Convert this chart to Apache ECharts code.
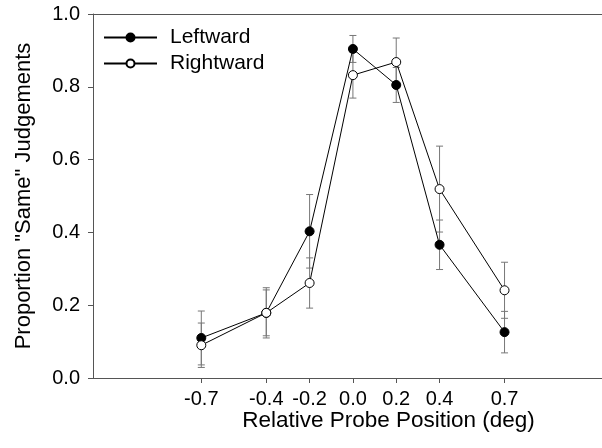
<!DOCTYPE html>
<html>
<head>
<meta charset="utf-8">
<script src="https://cdn.jsdelivr.net/npm/echarts@6/dist/echarts.min.js"></script>
<style>
  html, body { margin: 0; padding: 0; background: #fff; }
  #chart { width: 602px; height: 448px; }
</style>
</head>
<body>
<div id="chart"></div>
<script>
// probe positions (deg)
const positions = [-0.7, -0.4, -0.2, 0.0, 0.2, 0.4, 0.7];
// proportion "same" judgements + error bar half widths
const leftward = [0.110, 0.179, 0.403, 0.904, 0.805, 0.366, 0.126];
const leftwardErr = [0.074, 0.069, 0.101, 0.037, 0.048, 0.068, 0.057];
const rightward = [0.090, 0.179, 0.261, 0.832, 0.868, 0.519, 0.241];
const rightwardErr = [0.061, 0.063, 0.069, 0.063, 0.066, 0.118, 0.077];
const yTicks = [0, 0.2, 0.4, 0.6, 0.8, 1.0];

const axisColor = '#555';
const font = 'Liberation Sans';

const chart = echarts.init(document.getElementById('chart'));

function errData(vals, errs) {
  return positions.map((x, i) => [x, vals[i] - errs[i], vals[i] + errs[i]]);
}

// vertical bar with small caps
function renderErr(params, api) {
  const x = api.value(0);
  const lo = api.coord([x, api.value(1)]);
  const hi = api.coord([x, api.value(2)]);
  const w = 3.5;
  const st = { stroke: '#777', lineWidth: 1 };
  return {
    type: 'group',
    children: [
      { type: 'line', shape: { x1: lo[0], y1: lo[1], x2: hi[0], y2: hi[1] }, style: st },
      { type: 'line', shape: { x1: lo[0] - w, y1: lo[1], x2: lo[0] + w, y2: lo[1] }, style: st },
      { type: 'line', shape: { x1: hi[0] - w, y1: hi[1], x2: hi[0] + w, y2: hi[1] }, style: st }
    ]
  };
}

const option = {
  animation: false,
  textStyle: { fontFamily: font },
  grid: { left: 93, right: 0, top: 14, bottom: 70 },
  legend: {
    orient: 'vertical',
    left: 98,
    top: 22,
    itemWidth: 53,
    itemHeight: 10,
    itemGap: 5,
    textStyle: { fontFamily: font, fontSize: 21, color: '#000', padding: [0, 0, 0, 8] },
    data: ['Leftward', 'Rightward']
  },
  xAxis: [{
    type: 'value',
    min: -1.2,
    max: 1.15,
    name: 'Relative Probe Position (deg)',
    nameLocation: 'middle',
    nameGap: 31,
    nameMoveOverlap: false,
    nameTextStyle: { fontFamily: font, fontSize: 22.5, color: '#000', padding: [0, 0, 0, 82] },
    axisLine: { onZero: false, lineStyle: { color: axisColor, width: 1 } },
    axisTick: { show: true, length: 5, lineStyle: { color: axisColor }, customValues: positions },
    axisLabel: {
      margin: 11,
      customValues: positions,
      formatter: v => '{t|' + v.toFixed(1) + '}',
      rich: {
        t: { fontFamily: font, fontSize: 20, color: '#000' }
      }
    },
    splitLine: { show: false }
  }, {
    type: 'value',
    position: 'top',
    min: -1.2,
    max: 1.15,
    axisLine: { show: true, onZero: false, lineStyle: { color: axisColor, width: 1 } },
    axisTick: { show: false },
    axisLabel: { show: false },
    splitLine: { show: false }
  }],
  yAxis: {
    type: 'value',
    min: 0,
    max: 1,
    interval: 0.2,
    name: 'Proportion "Same" Judgements',
    nameLocation: 'middle',
    nameGap: 58,
    nameMoveOverlap: false,
    nameTextStyle: { fontFamily: font, fontSize: 22, color: '#000' },
    axisLine: { show: true, onZero: false, lineStyle: { color: axisColor, width: 1 } },
    axisTick: { show: true, length: 5, lineStyle: { color: axisColor } },
    axisLabel: {
      fontFamily: font, fontSize: 20, color: '#000', margin: 13,
      customValues: yTicks,
      formatter: v => v.toFixed(1)
    },
    splitLine: { show: false }
  },
  series: [
    {
      type: 'custom',
      renderItem: renderErr,
      data: errData(leftward, leftwardErr),
      z: 1,
      silent: true
    },
    {
      type: 'custom',
      renderItem: renderErr,
      data: errData(rightward, rightwardErr),
      z: 1,
      silent: true
    },
    {
      name: 'Leftward',
      type: 'line',
      data: positions.map((x, i) => [x, leftward[i]]),
      symbol: 'circle',
      symbolSize: 9,
      lineStyle: { color: '#000', width: 1 },
      itemStyle: { color: '#000', borderColor: '#000', borderWidth: 1 },
      z: 3
    },
    {
      name: 'Rightward',
      type: 'line',
      data: positions.map((x, i) => [x, rightward[i]]),
      symbol: 'circle',
      symbolSize: 9,
      lineStyle: { color: '#000', width: 1 },
      itemStyle: { color: '#fff', borderColor: '#000', borderWidth: 1 },
      z: 4
    }
  ]
};

chart.setOption(option);
</script>
</body>
</html>
